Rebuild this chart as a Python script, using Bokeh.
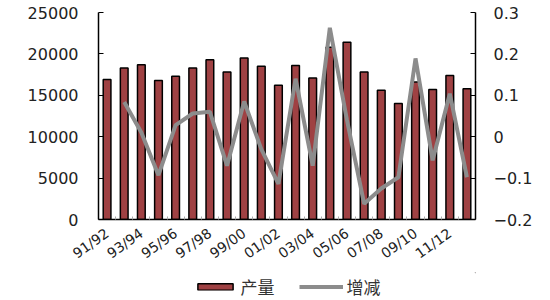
from bokeh.plotting import figure
from bokeh.models import Range1d, LinearAxis, FixedTicker, Legend, LegendItem
from bokeh.layouts import column
from bokeh.embed import file_html
from bokeh.resources import INLINE

seasons = ["91/92", "92/93", "93/94", "94/95", "95/96", "96/97", "97/98", "98/99",
           "99/00", "00/01", "01/02", "02/03", "03/04", "04/05", "05/06", "06/07",
           "07/08", "08/09", "09/10", "10/11", "11/12", "12/13"]
production = [16900, 18300, 18700, 16800, 17300, 18300, 19300, 17800, 19500, 18500, 16200,
              18600, 17100, 20800, 21400, 17800, 15600, 14000, 16600, 15700, 17400, 15800]
change = [None, 0.084, 0.01, -0.093, 0.028, 0.056, 0.06, -0.07, 0.085, -0.03, -0.114,
          0.14, -0.07, 0.263, 0.04, -0.162, -0.125, -0.098, 0.189, -0.057, 0.104, -0.098]
left_ticks = [0, 5000, 10000, 15000, 20000, 25000]
right_ticks = [-0.2, -0.1, 0, 0.1, 0.2, 0.3]
series_names = ["产量", "增减"]

FONT = "DejaVu Sans"
BAR_COLOR = "#9F4143"
LINE_COLOR = "#8C8C8C"

pos = list(range(len(seasons)))
shown = pos[::2]

p = figure(width=550, height=272, x_range=Range1d(-0.5, len(seasons) - 0.5),
           y_range=Range1d(0, 25000), output_backend="svg", toolbar_location=None,
           min_border_left=98, min_border_right=75, min_border_top=12, min_border_bottom=53)
p.extra_y_ranges = {"pct": Range1d(-0.2, 0.3)}
p.grid.visible = False
p.outline_line_color = None
p.background_fill_color = "white"

p.vbar(x=pos, top=production, width=0.45, fill_color=BAR_COLOR,
       line_color="black", line_width=1.5)
xs = [i for i, c in zip(pos, change) if c is not None]
ys = [c for c in change if c is not None]
p.line(x=xs, y=ys, y_range_name="pct", line_color=LINE_COLOR, line_width=4)

# left axis
ya = p.yaxis[0]
ya.ticker = FixedTicker(ticks=left_ticks)
ya.major_tick_in = 5
ya.major_tick_out = 0
ya.minor_tick_line_color = None
ya.axis_line_color = "black"
ya.axis_line_width = 1.5
ya.major_label_standoff = 20
ya.major_label_text_font = FONT
ya.major_label_text_font_size = "16px"
ya.major_label_text_color = "#222222"

# right axis
ra = LinearAxis(y_range_name="pct", ticker=FixedTicker(ticks=right_ticks))
ra.major_label_overrides = {0: "0"}
ra.major_tick_in = 5
ra.major_tick_out = 0
ra.minor_tick_line_color = None
ra.axis_line_color = "black"
ra.axis_line_width = 1.5
ra.major_label_standoff = 18
ra.major_label_text_font = FONT
ra.major_label_text_font_size = "16px"
ra.major_label_text_color = "#222222"
p.add_layout(ra, "right")

# x axis
xa = p.xaxis[0]
xa.ticker = FixedTicker(ticks=shown, minor_ticks=[i + 0.5 for i in pos[:-1]])
xa.major_label_overrides = {i: seasons[i] for i in shown}
xa.major_label_orientation = 0.62
xa.major_tick_line_color = None
xa.minor_tick_in = 3
xa.minor_tick_out = 0
xa.minor_tick_line_color = "#aaaaaa"
xa.axis_line_color = "black"
xa.axis_line_width = 1.5
xa.major_label_standoff = 6
xa.major_label_text_font = FONT
xa.major_label_text_font_size = "14px"
xa.major_label_text_color = "#222222"

# legend strip
lg = figure(width=550, height=28, x_range=Range1d(0, 1), y_range=Range1d(0, 1),
            output_backend="svg", toolbar_location=None, x_axis_type=None, y_axis_type=None,
            min_border_left=0, min_border_right=0, min_border_top=0, min_border_bottom=0)
lg.grid.visible = False
lg.outline_line_color = None
lb = lg.vbar(x=[5], top=[5], bottom=[4], width=0.5, fill_color=BAR_COLOR,
             line_color="black", line_width=1.5)
ll = lg.line(x=[5, 6], y=[5, 5], line_color=LINE_COLOR, line_width=4)
legend = Legend(items=[LegendItem(label=series_names[0], renderers=[lb]),
                       LegendItem(label=series_names[1], renderers=[ll])],
                orientation="horizontal", location="center",
                glyph_width=44, glyph_height=8, label_standoff=4, spacing=24,
                padding=0, margin=0, border_line_color=None, background_fill_alpha=0,
                label_text_font="Noto Sans CJK SC", label_text_font_size="17px",
                label_text_color="#333333", label_height=16)
lg.add_layout(legend, "center")

open("out.html", "w").write(file_html(column(p, lg, spacing=0), INLINE))
